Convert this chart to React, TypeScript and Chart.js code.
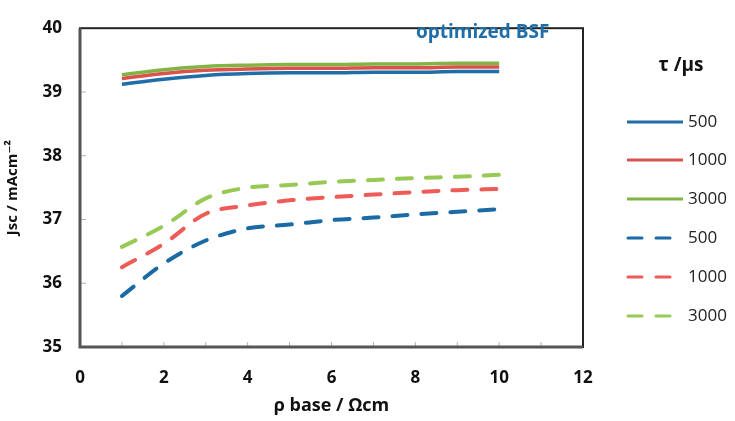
import React, { useEffect, useRef } from "react";
import { Chart, registerables } from "chart.js";

Chart.register(...registerables);

const rho = [1, 2, 3, 4, 5, 6, 7, 8, 9, 10];
const solid500 = [39.12, 39.2, 39.26, 39.29, 39.3, 39.3, 39.31, 39.31, 39.32, 39.32];
const solid1000 = [39.21, 39.29, 39.34, 39.36, 39.37, 39.37, 39.38, 39.38, 39.39, 39.39];
const solid3000 = [39.27, 39.35, 39.4, 39.42, 39.43, 39.43, 39.44, 39.44, 39.45, 39.45];
const dash500 = [35.8, 36.31, 36.67, 36.86, 36.92, 36.99, 37.03, 37.08, 37.12, 37.16];
const dash1000 = [36.25, 36.62, 37.09, 37.22, 37.3, 37.35, 37.39, 37.43, 37.46, 37.48];
const dash3000 = [36.57, 36.9, 37.33, 37.5, 37.54, 37.59, 37.62, 37.65, 37.67, 37.7];
const seriesLabels = ["500", "1000", "3000", "500", "1000", "3000"];
const xTicks = [0, 2, 4, 6, 8, 10, 12];
const yTicks = [35, 36, 37, 38, 39, 40];

const FONT = "'Open Sans', 'DejaVu Sans', sans-serif";
const colors = ["#1f6ea8", "#d9534c", "#82b443", "#1a6aa6", "#ef5b57", "#98c955"];

export default function App() {
  const ref = useRef<HTMLCanvasElement>(null);
  useEffect(() => {
    document.body.style.margin = "0";
    const series = [solid500, solid1000, solid3000, dash500, dash1000, dash3000];
    const datasets = series.map((vals, i) => ({
      label: seriesLabels[i],
      data: vals.map((v, j) => ({ x: rho[j], y: v })),
      borderColor: colors[i],
      backgroundColor: colors[i],
      borderWidth: i < 3 ? 3.5 : 4,
      borderDash: i < 3 ? [] : [15, 14],
      borderCapStyle: i < 3 ? "butt" : "round",
      pointRadius: 0,
      tension: 0.4,
      cubicInterpolationMode: "monotone",
      fill: false,
    }));

    const decor = {
      id: "decor",
      afterDraw(chart: any) {
        const ctx = chart.ctx;
        const { left, right, top, bottom } = chart.chartArea;
        const xs = chart.scales.x;
        const ys = chart.scales.y;
        ctx.save();
        // minor ticks inward
        ctx.strokeStyle = "#b0b0b0";
        ctx.lineWidth = 1;
        for (let v = 1; v < 12; v++) {
          const px = xs.getPixelForValue(v);
          ctx.beginPath();
          ctx.moveTo(px, bottom);
          ctx.lineTo(px, bottom - 5);
          ctx.stroke();
        }
        for (let v = 36; v < 40; v++) {
          const py = ys.getPixelForValue(v);
          ctx.beginPath();
          ctx.moveTo(left, py);
          ctx.lineTo(left + 6, py);
          ctx.stroke();
        }
        // frame
        ctx.strokeStyle = "#222";
        ctx.lineWidth = 2;
        ctx.strokeRect(left, top, right - left, bottom - top);
        ctx.strokeStyle = "#555";
        ctx.lineWidth = 3;
        ctx.beginPath();
        ctx.moveTo(left, top);
        ctx.lineTo(left, bottom);
        ctx.lineTo(right, bottom);
        ctx.stroke();
        // annotation
        ctx.fillStyle = "#1f6ea8";
        ctx.font = `bold 19px ${FONT}`;
        ctx.textAlign = "left";
        ctx.textBaseline = "middle";
        ctx.fillText("optimized BSF", 416, 33);
        // legend
        ctx.fillStyle = "#111";
        ctx.font = `bold 19px ${FONT}`;
        ctx.textAlign = "center";
        ctx.fillText("τ /μs", 681, 66);
        const rowsY = [122, 160, 199, 238, 277, 316];
        ctx.font = `17px ${FONT}`;
        ctx.textAlign = "left";
        chart.data.datasets.forEach((ds: any, i: number) => {
          const y = rowsY[i];
          ctx.strokeStyle = ds.borderColor;
          ctx.lineWidth = 3;
          if (i < 3) {
            ctx.lineCap = "butt";
            ctx.beginPath();
            ctx.moveTo(627, y);
            ctx.lineTo(683, y);
            ctx.stroke();
          } else {
            ctx.lineCap = "round";
            ctx.beginPath();
            ctx.moveTo(628, y);
            ctx.lineTo(642, y);
            ctx.moveTo(656, y);
            ctx.lineTo(670, y);
            ctx.stroke();
          }
          ctx.fillStyle = "#222";
          ctx.fillText(ds.label, 688, y);
        });
        ctx.restore();
      },
    };

    const chart = new Chart(ref.current!, {
      type: "line",
      data: { datasets: datasets as any },
      options: {
        animation: false,
        responsive: false,
        maintainAspectRatio: false,
        layout: { padding: { left: 0, top: 16, right: 152, bottom: 0 } },
        plugins: { legend: { display: false }, tooltip: { enabled: false } },
        scales: {
          x: {
            type: "linear",
            min: 0,
            max: 12,
            afterBuildTicks: (s: any) => {
              s.ticks = xTicks.map((v) => ({ value: v }));
            },
            afterFit: (s: any) => {
              s.height = 74;
            },
            grid: { display: false, drawTicks: false },
            border: { display: false },
            ticks: {
              padding: 21,
              color: "#111",
              font: { family: FONT, size: 17, weight: "bold" },
              maxRotation: 0,
            },
            title: {
              display: true,
              text: "ρ base / Ωcm",
              color: "#111",
              font: { family: FONT, size: 18, weight: "bold" },
              padding: { top: 6 },
            },
          },
          y: {
            type: "linear",
            min: 35,
            max: 40,
            afterBuildTicks: (s: any) => {
              s.ticks = yTicks.map((v) => ({ value: v }));
            },
            afterFit: (s: any) => {
              s.width = 80;
            },
            grid: { display: false, drawTicks: false },
            border: { display: false },
            ticks: {
              padding: 18,
              color: "#111",
              font: { family: FONT, size: 17, weight: "bold" },
            },
            title: {
              display: true,
              text: "Jsc / mAcm⁻²",
              color: "#111",
              font: { family: FONT, size: 15, weight: "bold" },
              padding: { bottom: 2 },
            },
          },
        },
      },
      plugins: [decor],
    });
    return () => chart.destroy();
  }, []);

  return (
    <div style={{ position: "absolute", left: 0, top: 0, width: 735, height: 421, background: "#fff" }}>
      <canvas ref={ref} width={735} height={421} style={{ width: 735, height: 421 }} />
    </div>
  );
}
